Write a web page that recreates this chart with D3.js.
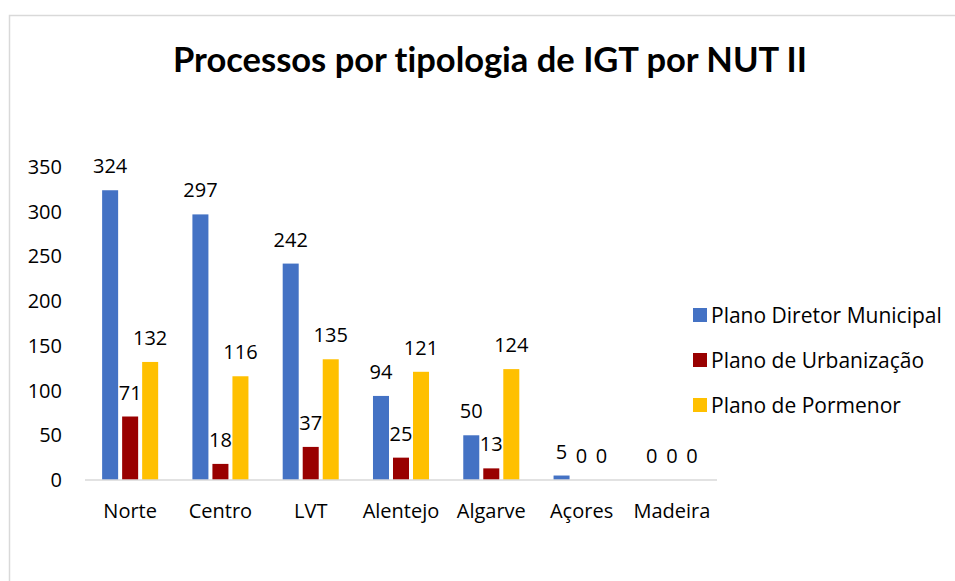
<!DOCTYPE html>
<html>
<head>
<meta charset="utf-8">
<script src="https://cdn.jsdelivr.net/npm/d3@7"></script>
<style>
  body { margin: 0; background: #fff; }
  text { font-family: "Open Sans", sans-serif; fill: #000; }
</style>
</head>
<body>
<div id="chart"></div>
<script>
const regions = ["Norte", "Centro", "LVT", "Alentejo", "Algarve", "Açores", "Madeira"];
const seriesNames = ["Plano Diretor Municipal", "Plano de Urbanização", "Plano de Pormenor"];
const pdm = [324, 297, 242, 94, 50, 5, 0];
const pu = [71, 18, 37, 25, 13, 0, 0];
const pp = [132, 116, 135, 121, 124, 0, 0];
const yTicks = [0, 50, 100, 150, 200, 250, 300, 350];
const colors = ["#4472C4", "#990000", "#FFC000"];

const W = 955, H = 581;
const svg = d3.select("#chart").append("svg")
  .attr("width", W).attr("height", H);

// chart frame
svg.append("rect")
  .attr("x", 9.5).attr("y", 15.5)
  .attr("width", W).attr("height", H)
  .attr("fill", "none")
  .attr("stroke", "#d9d9d9")
  .attr("stroke-width", 1.5);

svg.append("text")
  .attr("x", 490).attr("y", 72)
  .attr("text-anchor", "middle")
  .style("font-family", "Lato, sans-serif")
  .style("font-size", "34.5px")
  .style("font-weight", "bold")
  .style("font-variant-ligatures", "none")
  .text("Processos por tipologia de IGT por NUT II");

const margin = { left: 85, right: 717, top: 167, bottom: 480 };

const x0 = d3.scaleBand()
  .domain(regions)
  .range([margin.left, margin.right])
  .paddingInner(0.335)
  .paddingOuter(0.1675);

const x1 = d3.scaleBand()
  .domain(seriesNames)
  .range([0, x0.bandwidth()])
  .paddingInner(0.2)
  .paddingOuter(0.1);

const y = d3.scaleLinear()
  .domain([0, 350])
  .range([margin.bottom, margin.top]);

// y labels
svg.append("g")
  .selectAll("text")
  .data(yTicks)
  .join("text")
  .attr("x", 62)
  .attr("y", d => y(d))
  .attr("dy", "0.35em")
  .attr("text-anchor", "end")
  .style("font-size", "20px")
  .text(d => d);

const table = regions.map((r, i) => ({ region: r, values: [pdm[i], pu[i], pp[i]] }));

const groups = svg.append("g")
  .selectAll("g")
  .data(table)
  .join("g")
  .attr("transform", d => "translate(" + x0(d.region) + ",0)");

groups.selectAll("rect")
  .data(d => d.values.map((v, j) => ({ key: seriesNames[j], value: v, j: j })))
  .join("rect")
  .attr("x", d => x1(d.key))
  .attr("y", d => y(d.value))
  .attr("width", x1.bandwidth())
  .attr("height", d => y(0) - y(d.value))
  .attr("fill", d => colors[d.j]);

groups.selectAll("text.val")
  .data(d => d.values.map((v, j) => ({ key: seriesNames[j], value: v })))
  .join("text")
  .attr("class", "val")
  .attr("x", d => x1(d.key) + x1.bandwidth() / 2)
  .attr("y", d => y(d.value) - 17)
  .attr("text-anchor", "middle")
  .style("font-size", "20px")
  .text(d => d.value);

// baseline
svg.append("line")
  .attr("x1", margin.left).attr("x2", margin.right)
  .attr("y1", y(0)).attr("y2", y(0))
  .attr("stroke", "#d9d9d9")
  .attr("stroke-width", 1.5);

// category labels
svg.append("g")
  .selectAll("text")
  .data(regions)
  .join("text")
  .attr("x", d => x0(d) + x0.bandwidth() / 2)
  .attr("y", 518)
  .attr("text-anchor", "middle")
  .style("font-size", "20px")
  .text(d => d);

// legend
const legend = svg.append("g")
  .selectAll("g")
  .data(seriesNames)
  .join("g")
  .attr("transform", (d, i) => "translate(693," + (315 + i * 45) + ")");

legend.append("rect")
  .attr("x", 0).attr("y", -7)
  .attr("width", 14).attr("height", 14)
  .attr("fill", (d, i) => colors[i]);

legend.append("text")
  .attr("x", 18)
  .attr("y", 0)
  .attr("dy", "0.36em")
  .style("font-size", "21px")
  .text(d => d);
</script>
</body>
</html>
